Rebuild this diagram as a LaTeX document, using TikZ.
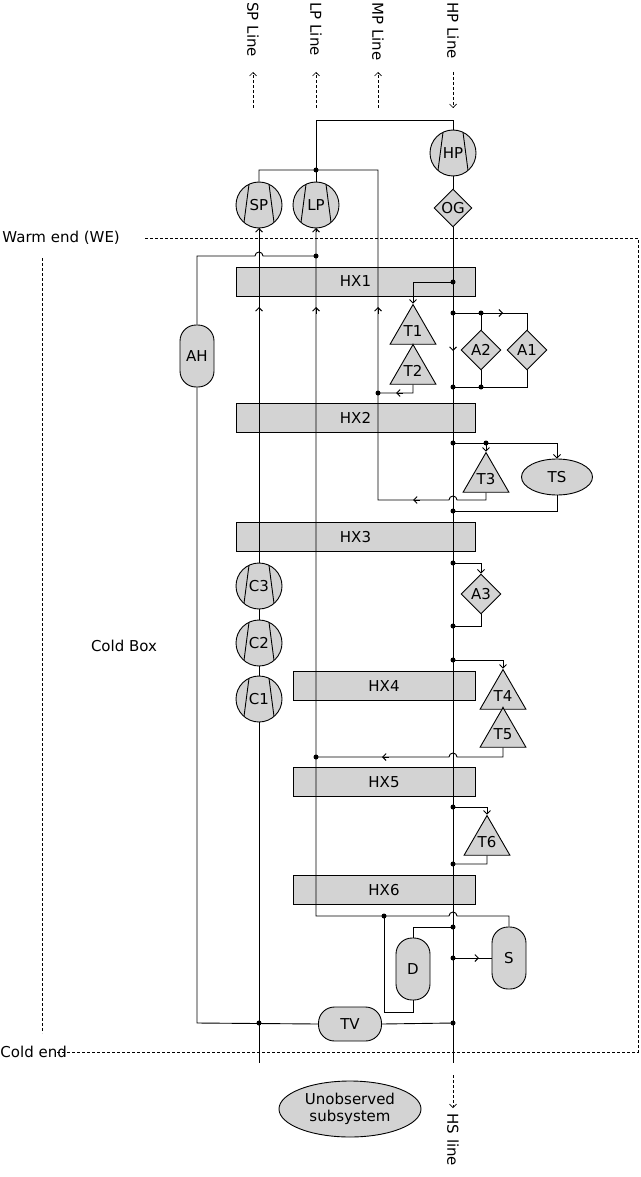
\documentclass[tikz,border=0pt]{standalone}
\usepackage{fontspec}
\setmainfont{DejaVu Sans}
\usetikzlibrary{shapes.geometric,arrows.meta}
\definecolor{fillc}{RGB}{211,211,211}
\begin{document}
\begin{tikzpicture}[x=1pt,y=-1pt,line width=0.9pt,
  font=\fontsize{15}{18}\selectfont,
  >={Straight Barb[length=3.5pt,width=7pt]},
  box/.style={draw,fill=fillc,minimum height=29pt,inner sep=0},
  comp/.style={draw,circle,fill=fillc,minimum size=46pt,inner sep=0,
    path picture={\draw ($(path picture bounding box.center)+(-10pt,20.7pt)$) -- ($(path picture bounding box.center)+(-15pt,-17.4pt)$);
                  \draw ($(path picture bounding box.center)+(10pt,20.7pt)$) -- ($(path picture bounding box.center)+(15pt,-17.4pt)$);}},
  dia/.style={draw,diamond,fill=fillc,minimum size=40pt,inner sep=0},
  tri/.style={draw,regular polygon,regular polygon sides=3,fill=fillc,minimum size=48pt,inner sep=0},
  capv/.style={draw,fill=fillc,rounded corners=16pt,minimum width=34pt,minimum height=62pt,inner sep=0},
  caph/.style={draw,fill=fillc,rounded corners=16pt,minimum width=63pt,minimum height=34pt,inner sep=0},
  ell/.style={draw,ellipse,fill=fillc,inner sep=0},
  dot/.style={circle,fill=black,inner sep=0,minimum size=5pt},
  dl/.style={densely dashed,line width=0.7pt},
  lbl/.style={rotate=-90,anchor=west,inner sep=0}]
\usetikzlibrary{calc}
\useasboundingbox (0,0) rectangle (640,1177);
% cold box
\draw[dl] (145,238) -- (638,238) -- (638,1052) -- (55,1052);
\draw[dl] (42,258) -- (42,1033);
\node[anchor=west,inner sep=0] (we) at (2,238) {Warm end (WE)};
\node[anchor=west,inner sep=0] (ce) at (0,1052) {Cold end};
\node (cb) at (124,646) {Cold Box};
% top labels
\node[lbl] (spl) at (253,2) {SP Line};
\node[lbl] (lpl) at (316,2) {LP Line};
\node[lbl] (mpl) at (378,2) {MP Line};
\node[lbl] (hpl) at (453,2) {HP Line};
\draw[dl,->] (253,108) -- (253,72);
\draw[dl,->] (316,108) -- (316,72);
\draw[dl,->] (378,108) -- (378,72);
\draw[dl,->] (453,72) -- (453,108);
\draw[dl,->] (453,1075) -- (453,1108);
\node[lbl] (hsl) at (453,1113) {HS line};
\node[ell,minimum width=142pt,minimum height=56pt,align=center,font=\fontsize{15}{17}\selectfont] (uo) at (350,1109) {Unobserved\\subsystem};
% HX boxes
\node[box,minimum width=239pt] (HX1) at (355.5,281.5) {HX1};
\node[box,minimum width=239pt] (HX2) at (355.5,418) {HX2};
\node[box,minimum width=239pt] (HX3) at (355.5,537) {HX3};
\node[box,minimum width=182pt] (HX4) at (384,686) {HX4};
\node[box,minimum width=182pt] (HX5) at (384,782) {HX5};
\node[box,minimum width=182pt] (HX6) at (384,890) {HX6};
% components
\node[comp] (SP) at (259,205) {SP};
\node[comp] (LP) at (316,205) {LP};
\node[comp] (HP) at (453,153) {HP};
\node[dia,minimum size=38pt] (OG) at (453,208) {OG};
\node[comp] (C3) at (259,586) {C3};
\node[comp] (C2) at (259,643) {C2};
\node[comp] (C1) at (259,699) {C1};
\node[capv] (AH) at (197,356) {AH};
\node[caph] (TV) at (350,1024) {TV};
\node[capv] (D) at (413,969) {D};
\node[capv] (S) at (509,958) {S};
\node[tri] (T1) at (413,331) {T1};
\node[tri] (T2) at (413,371) {T2};
\node[tri] (T3) at (486,479) {T3};
\node[tri] (T4) at (503,696) {T4};
\node[tri] (T5) at (503,734) {T5};
\node[tri] (T6) at (487,842) {T6};
\node[dia] (A2) at (481,350) {A2};
\node[dia] (A1) at (527,350) {A1};
\node[dia] (A3) at (481,594) {A3};
\node[ell,minimum width=71pt,minimum height=36pt] (TS) at (557,477) {TS};
% coordinates
\coordinate (jL) at (316,170);
\coordinate (jAH) at (316,256);
\coordinate (j1) at (453,282);
\coordinate (j2) at (453,313);
\coordinate (j3) at (481,313);
\coordinate (j4) at (453,387);
\coordinate (j5) at (481,387);
\coordinate (j6) at (378,393);
\coordinate (j7) at (453,443);
\coordinate (j8) at (486,443);
\coordinate (j9) at (453,511);
\coordinate (j10) at (453,563);
\coordinate (j11) at (453,626);
\coordinate (j12) at (453,660);
\coordinate (j13) at (316,757);
\coordinate (j14) at (453,807);
\coordinate (j15) at (453,864);
\coordinate (j16) at (384,916);
\coordinate (j17) at (453,927);
\coordinate (j18) at (453,958);
\coordinate (j19) at (259,1023);
\coordinate (j20) at (453,1023);
\coordinate (spend) at (259,1063);
\coordinate (hpend) at (453,1063);
% main lines
\draw (jL) -- (316,120) -| (HP.north);
\draw (HP) -- (OG);
\draw (OG.south) -- (hpend);
\draw (SP.north) |- (378,170) -- (j6) -- (378,500) -- (449,500) arc[start angle=180,end angle=0,radius=4pt] -- (486,500) -- (T3.south);
\draw (LP.north) -- (jL);
\draw (LP.south) -- (316,916) -- (449,916) arc[start angle=180,end angle=0,radius=4pt] -- (509,916) -- (S.north);
\draw (SP.south) -- (C3.north);
\draw (C3) -- (C2) (C2) -- (C1);
\draw (C1.south) -- (spend);
\draw (AH.north) -- (197,256) -- (255,256) arc[start angle=180,end angle=0,radius=4pt] -- (jAH);
\draw (AH.south) -- (197,1023) -- (TV.west);
\draw (TV.east) -- (j20);
% branches
\draw[->] (j1) -- (413,282) -- (T1.corner 1);
\draw (T1.south) -- (T2.corner 1);
\draw (T2.south) -- (413,393) -- (j6);
\draw (j2) -- (527,313) -- (A1.north);
\draw (j3) -- (A2.north);
\draw (A2.south) -- (j5);
\draw (A1.south) -- (527,387) -- (j4);
\draw[->] (j7) -- (557,443) -- (TS.north);
\draw[->] (j8) -- (T3.corner 1);
\draw (TS.south) -- (557,511) -- (j9);
\draw[->] (j10) -- (481,563) -- (A3.north);
\draw (A3.south) -- (481,626) -- (j11);
\draw[->] (j12) -- (503,660) -- (T4.corner 1);
\draw (T4.south) -- (T5.corner 1);
\draw (T5.south) -- (503,757) -- (457,757) arc[start angle=0,end angle=180,radius=4pt] -- (j13);
\draw[->] (j14) -- (487,807) -- (T6.corner 1);
\draw (T6.south) -- (487,864) -- (j15);
\draw (j17) -- (413,927) -- (D.north);
\draw (D.south) -- (413,1012) -- (384,1012) -- (j16);
\draw (j18) -- (S.west);
% mid arrows
\draw[->] (259,314) -- (259,307);
\draw[->] (316,314) -- (316,307);
\draw[->] (378,314) -- (378,307);
\draw[->] (259,232) -- (259,228);
\draw[->] (316,232) -- (316,228);
\draw[->] (453,344) -- (453,351);
\draw[->] (496,313) -- (503,313);
\draw[->] (403,393) -- (396,393);
\draw[->] (420,500) -- (413,500);
\draw[->] (389,757) -- (382,757);
\draw[->] (472,958) -- (479,958);
% dots
\foreach \p in {jL,jAH,j1,j2,j3,j4,j5,j6,j7,j8,j9,j10,j11,j12,j13,j14,j15,j16,j17,j18,j19,j20}
  \node[dot] at (\p) {};
\end{tikzpicture}
\end{document}
